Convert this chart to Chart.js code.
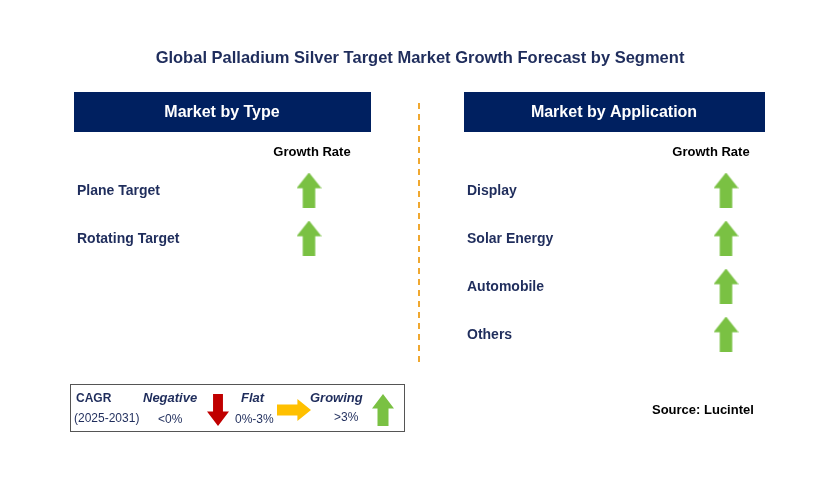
<!DOCTYPE html>
<html><head><meta charset="utf-8">
<script src="https://cdn.jsdelivr.net/npm/chart.js@4"></script>
<style>html,body{margin:0;padding:0;background:#fff}canvas{display:block}</style>
</head><body>
<canvas id="c" width="829" height="493"></canvas>
<script>
const title = "Global Palladium Silver Target Market Growth Forecast by Segment";
const typeCategories = ["Plane Target", "Rotating Target"];
const typeGrowth = ["up", "up"];
const appCategories = ["Display", "Solar Energy", "Automobile", "Others"];
const appGrowth = ["up", "up", "up", "up"];
const legendLabels = ["Negative", "Flat", "Growing"];
const legendRanges = ["<0%", "0%-3%", ">3%"];

function arrowImg(dir, color, w, h) {
  const c = document.createElement('canvas'); c.width = w; c.height = h;
  const g = c.getContext('2d'); g.fillStyle = color; g.beginPath();
  if (dir === 'up') {
    const sw = w*0.5, hh = h*0.45;
    g.moveTo(w/2,0); g.lineTo(w,hh); g.lineTo(w/2+sw/2,hh); g.lineTo(w/2+sw/2,h);
    g.lineTo(w/2-sw/2,h); g.lineTo(w/2-sw/2,hh); g.lineTo(0,hh);
  } else if (dir === 'down') {
    const sw = w*0.45, hh = h*0.55;
    g.moveTo(w/2-sw/2,0); g.lineTo(w/2+sw/2,0); g.lineTo(w/2+sw/2,hh); g.lineTo(w,hh);
    g.lineTo(w/2,h); g.lineTo(0,hh); g.lineTo(w/2-sw/2,hh);
  } else {
    const sh = h*0.5, ww = w*0.6;
    g.moveTo(0,h/2-sh/2); g.lineTo(ww,h/2-sh/2); g.lineTo(ww,0); g.lineTo(w,h/2);
    g.lineTo(ww,h); g.lineTo(ww,h/2+sh/2); g.lineTo(0,h/2+sh/2);
  }
  g.closePath(); g.fill(); return c;
}
const green = arrowImg('up', '#7AC143', 25, 35);
const red = arrowImg('down', '#C00000', 22, 32);
const yellow = arrowImg('right', '#FFC000', 34, 22);

const rowY = i => 190 + 48*i;
const typePts = typeCategories.map((c,i)=>({x:309, y:rowY(i)}));
const appPts = appCategories.map((c,i)=>({x:726, y:rowY(i)}));

const textPlugin = {
  id:'txt',
  beforeDatasetsDraw(chart){
    const g = chart.ctx, X = chart.scales.x, Y = chart.scales.y;
    const px = v=>X.getPixelForValue(v), py = v=>Y.getPixelForValue(v);
    g.save();
    g.textBaseline='middle';
    g.font='bold 16.5px Arial, "Liberation Sans"'; g.fillStyle='#1F2D5C'; g.textAlign='center';
    g.fillText(title, px(420), py(58));
    g.fillStyle='#002060';
    g.fillRect(px(74), py(92), 297, 40); g.fillRect(px(464), py(92), 301, 40);
    g.fillStyle='#fff'; g.font='bold 16px Arial, "Liberation Sans"';
    g.fillText("Market by Type", px(222), py(113)); g.fillText("Market by Application", px(614), py(113));
    g.fillStyle='#000'; g.font='bold 13px Arial, "Liberation Sans"';
    g.fillText("Growth Rate", px(312), py(152)); g.fillText("Growth Rate", px(711), py(152));
    g.textAlign='left'; g.fillStyle='#1F2D5C'; g.font='bold 14px Arial, "Liberation Sans"';
    typeCategories.forEach((c,i)=>g.fillText(c, px(77), py(rowY(i)+1)));
    appCategories.forEach((c,i)=>g.fillText(c, px(467), py(rowY(i)+1)));
    g.strokeStyle='#F0A830'; g.lineWidth=2; g.setLineDash([6,5]);
    g.beginPath(); g.moveTo(px(419),py(103)); g.lineTo(px(419),py(366)); g.stroke(); g.setLineDash([]);
    g.strokeStyle='#555'; g.lineWidth=1; g.strokeRect(px(70)+.5, py(384)+.5, 334, 47);
    g.font='bold 12px Arial, "Liberation Sans"'; g.fillStyle='#1F2D5C';
    g.fillText("CAGR", px(76), py(399)); g.font='12px Arial, "Liberation Sans"';
    g.fillText("(2025-2031)", px(74), py(419));
    g.font='bold italic 13px Arial, "Liberation Sans"';
    g.fillText(legendLabels[0], px(143), py(398)); g.fillText(legendLabels[1], px(241), py(398)); g.fillText(legendLabels[2], px(310), py(398));
    g.font='12px Arial, "Liberation Sans"';
    g.fillText(legendRanges[0], px(158), py(420)); g.fillText(legendRanges[1], px(235), py(420)); g.fillText(legendRanges[2], px(334), py(418));
    g.font='bold 13px Arial, "Liberation Sans"'; g.fillStyle='#000';
    g.fillText("Source: Lucintel", px(652), py(410));
    g.restore();
  }
};

new Chart(document.getElementById('c'), {
  type:'scatter',
  data:{datasets:[
    {data:typePts, pointStyle:typeGrowth.map(()=>green), radius:12},
    {data:appPts, pointStyle:appGrowth.map(()=>green), radius:12},
    {data:[{x:218,y:410}], pointStyle:red, radius:12},
    {data:[{x:294,y:410}], pointStyle:yellow, radius:12},
    {data:[{x:383,y:410}], pointStyle:arrowImg('up','#7AC143',22,32), radius:12}
  ]},
  options:{responsive:false, devicePixelRatio:1, animation:false,
    layout:{padding:0, autoPadding:false},
    plugins:{legend:{display:false}, tooltip:{enabled:false}},
    scales:{x:{type:'linear',min:0,max:829,display:false},
            y:{type:'linear',min:0,max:493,reverse:true,display:false}}},
  plugins:[textPlugin]
});
</script>
</body></html>
